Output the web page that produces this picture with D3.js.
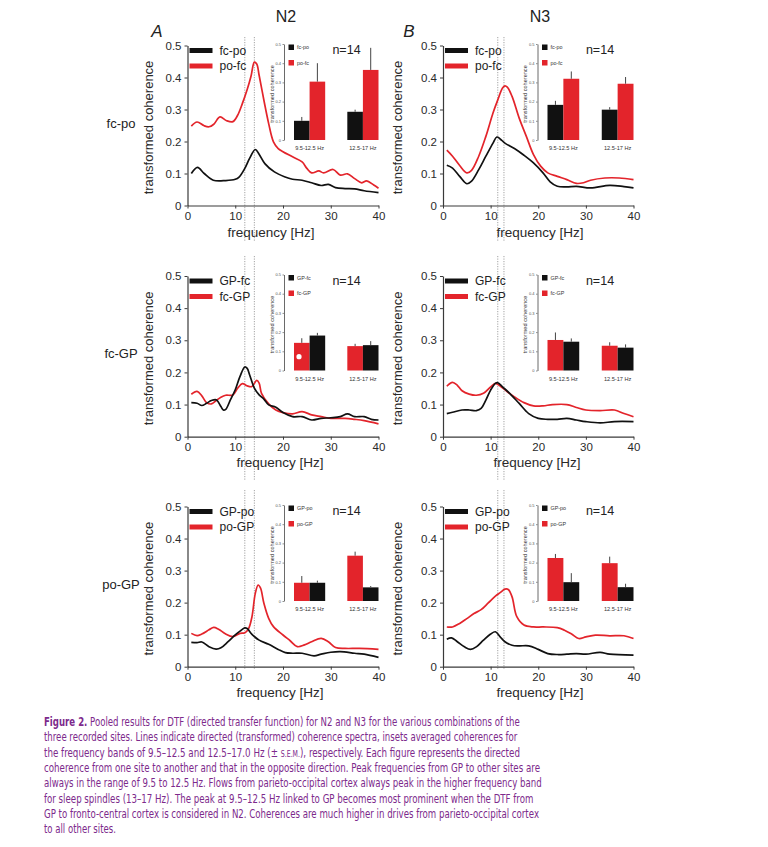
<!DOCTYPE html>
<html><head><meta charset="utf-8">
<script src="https://cdn.jsdelivr.net/npm/d3@7"></script>
<style>body{margin:0;background:#fff}</style>
</head><body><svg id="c" width="768" height="847" xmlns="http://www.w3.org/2000/svg"></svg>
<script>
// ---------- data ----------
const freqTicks = [0, 10, 20, 30, 40];
const cohTicks = [0, 0.1, 0.2, 0.3, 0.4, 0.5];
const bands = ["9.5-12.5 Hz", "12.5-17 Hz"];
const stageTitles = ["N2", "N3"];
const panelLetters = ["A", "B"];
const rowLabels = ["fc-po", "fc-GP", "po-GP"];
const markerFreqsN2 = [12, 14];
const markerFreqsN3 = [11.5, 12.8];

// row 1: fc-po / po-fc
const n2_fcpo = [[0.8,0.10],[2.1,0.119],[3.5,0.10],[5.4,0.079],[8,0.078],[10,0.082],[10.8,0.089],[12,0.116],[13,0.147],[14.2,0.175],[15,0.16],[16.2,0.131],[18.2,0.105],[20.3,0.09],[22,0.082],[24,0.079],[26,0.071],[28,0.0625],[29.5,0.066],[31,0.056],[33,0.053],[35,0.052],[37,0.046],[40,0.04]];
const n2_pofc = [[0.8,0.248],[2,0.261],[3.5,0.249],[4.5,0.246],[5.5,0.254],[6.8,0.277],[8.2,0.265],[9.5,0.262],[10.5,0.282],[11.5,0.319],[12.5,0.3625],[13.3,0.404],[14,0.448],[14.5,0.442],[15,0.407],[16,0.329],[17,0.256],[18,0.199],[19,0.178],[20,0.168],[22,0.152],[24,0.136],[25,0.116],[26,0.102],[27.5,0.108],[28.5,0.102],[30.5,0.1125],[32,0.095],[33.5,0.099],[35,0.084],[36.5,0.071],[37.5,0.077],[39,0.064],[40,0.054]];
const n3_fcpo = [[0.8,0.126],[2,0.117],[3.5,0.091],[5,0.068],[6,0.076],[7.5,0.112],[9,0.154],[10.5,0.195],[11.3,0.214],[12,0.208],[13,0.195],[15,0.178],[17,0.157],[19,0.133],[21,0.102],[22.5,0.074],[24,0.06],[26,0.058],[28,0.06],[31,0.055],[35,0.063],[38,0.059],[40,0.055]];
const n3_pofc = [[0.8,0.173],[2,0.154],[3.5,0.125],[5,0.102],[6,0.11],[7.5,0.154],[9,0.216],[10.5,0.289],[11.5,0.33],[12.5,0.367],[13,0.374],[13.5,0.37],[14.5,0.341],[16,0.273],[17.5,0.216],[19,0.159],[20.5,0.123],[22,0.102],[24,0.091],[26,0.081],[28,0.069],[29.5,0.071],[31,0.079],[34,0.086],[37,0.086],[40,0.081]];

// row 2: GP-fc / fc-GP
const n2_gpfc = [[0.8,0.106],[2,0.104],[3,0.097],[4,0.104],[5,0.1125],[6,0.115],[7,0.094],[7.5,0.083],[8,0.085],[9,0.115],[10,0.146],[11,0.1875],[12,0.217],[12.5,0.2125],[13,0.193],[14,0.151],[15,0.13],[16,0.117],[17,0.099],[18.5,0.092],[20,0.075],[22,0.0625],[24,0.0625],[26,0.052],[28,0.057],[30,0.059],[32,0.0625],[33.5,0.071],[35,0.0625],[37,0.0625],[38.5,0.054],[40,0.052]];
const n2_fcgp = [[0.8,0.132],[2,0.141],[3,0.127],[4,0.106],[5,0.102],[6,0.1125],[7,0.123],[8,0.129],[9.5,0.13],[10.5,0.151],[11.5,0.165],[12.5,0.158],[13.5,0.156],[14.5,0.175],[15,0.167],[15.5,0.135],[17,0.102],[18.5,0.083],[20,0.075],[22,0.071],[24,0.078],[26,0.068],[28,0.0625],[30,0.057],[33,0.057],[35,0.054],[37,0.05],[40,0.04]];
const n3_gpfc = [[0.8,0.072],[2,0.076],[4,0.083],[5.5,0.083],[7,0.081],[8,0.088],[9,0.114],[10,0.145],[11,0.166],[11.5,0.168],[12.5,0.155],[14,0.135],[16,0.1035],[18,0.072],[20,0.057],[22,0.054],[24,0.054],[26,0.057],[28,0.052],[30,0.047],[33,0.043],[36,0.047],[40,0.047]];
const n3_fcgp = [[0.8,0.157],[2,0.169],[3,0.16],[4,0.143],[5.5,0.1325],[7,0.129],[8.5,0.135],[10,0.155],[11,0.166],[12,0.158],[13.5,0.14],[15,0.124],[17,0.106],[19,0.096],[21,0.096],[23,0.1],[26,0.1],[28,0.091],[30,0.083],[33,0.081],[36,0.083],[38,0.072],[40,0.062]];

// row 3: GP-po / po-GP
const n2_gppo = [[0.8,0.076],[2,0.075],[3,0.077],[4.5,0.0625],[6,0.055],[7,0.059],[8.5,0.078],[10,0.099],[11,0.111],[12,0.121],[12.5,0.119],[13.5,0.101],[15,0.083],[17,0.07],[19,0.054],[20.5,0.044],[22,0.042],[24,0.042],[26.5,0.034],[28,0.039],[30,0.045],[32,0.047],[35,0.042],[37,0.039],[40,0.029]];
const n2_pogp = [[0.8,0.104],[2,0.097],[3,0.102],[4.5,0.115],[5.5,0.123],[6.5,0.117],[8,0.102],[9.5,0.094],[11,0.104],[12,0.106],[12.8,0.119],[13.5,0.156],[14.2,0.229],[14.8,0.255],[15.3,0.245],[16,0.198],[17,0.151],[18,0.125],[20,0.099],[21.5,0.081],[23,0.0625],[24.5,0.068],[26,0.078],[28,0.0885],[29.5,0.078],[31,0.06],[33,0.057],[36,0.057],[40,0.054]];
const n3_gppo = [[0.8,0.086],[1.8,0.09],[3,0.078],[4.5,0.062],[5.8,0.054],[7,0.062],[8.5,0.083],[10,0.102],[11,0.109],[12,0.093],[13,0.078],[14.5,0.067],[16,0.065],[18,0.065],[20,0.054],[22,0.041],[24,0.038],[26,0.039],[28,0.041],[30,0.039],[33,0.045],[35,0.039],[40,0.036]];
const n3_pogp = [[0.8,0.124],[2,0.124],[3.5,0.135],[5,0.15],[6.5,0.166],[8,0.178],[9.5,0.199],[11,0.22],[12,0.231],[13,0.242],[13.7,0.241],[14.5,0.218],[15.5,0.156],[17,0.13],[19,0.124],[21,0.124],[24,0.122],[25.5,0.114],[27,0.102],[28.5,0.088],[30,0.093],[32,0.0985],[35,0.0965],[38,0.0965],[40,0.088]];

// inset bars: band means and S.E.M.
const n2_fcpo_mean = [0.10, 0.147],  n2_fcpo_sem = [0.02, 0.011];
const n2_pofc_mean = [0.304, 0.365], n2_pofc_sem = [0.096, 0.115];
const n3_fcpo_mean = [0.183, 0.158], n3_fcpo_sem = [0.021, 0.013];
const n3_pofc_mean = [0.319, 0.293], n3_pofc_sem = [0.038, 0.035];
const n2_gpfc_mean = [0.182, 0.132], n2_gpfc_sem = [0.014, 0.021];
const n2_fcgp_mean = [0.144, 0.127], n2_fcgp_sem = [0.024, 0.012];
const n3_gpfc_mean = [0.15, 0.119],  n3_gpfc_sem = [0.017, 0.017];
const n3_fcgp_mean = [0.159, 0.129], n3_fcgp_sem = [0.039, 0.018];
const n2_gppo_mean = [0.095, 0.071], n2_gppo_sem = [0.011, 0.007];
const n2_pogp_mean = [0.095, 0.236], n2_pogp_sem = [0.035, 0.021];
const n3_gppo_mean = [0.098, 0.072], n3_gppo_sem = [0.047, 0.018];
const n3_pogp_mean = [0.224, 0.197], n3_pogp_sem = [0.021, 0.034];

const captionLines = [
  ["Figure 2.", " Pooled results for DTF (directed transfer function) for N2 and N3 for the various combinations of the"],
  ["", "three recorded sites. Lines indicate directed (transformed) coherence spectra, insets averaged coherences for"],
  ["", "the frequency bands of 9.5–12.5 and 12.5–17.0 Hz (± ", "S.E.M.", "), respectively. Each figure represents the directed"],
  ["", "coherence from one site to another and that in the opposite direction. Peak frequencies from GP to other sites are"],
  ["", "always in the range of 9.5 to 12.5 Hz. Flows from parieto-occipital cortex always peak in the higher frequency band"],
  ["", "for sleep spindles (13–17 Hz). The peak at 9.5–12.5 Hz linked to GP becomes most prominent when the DTF from"],
  ["", "GP to fronto-central cortex is considered in N2. Coherences are much higher in drives from parieto-occipital cortex"],
  ["", "to all other sites."]
];
const captionWidths = [476, 474, 476, 496, 498, 490, 495, 72];

// ---------- layout ----------
const RED = "#e3242b", BLACK = "#111111", AXIS = "#3a3a3a", PURPLE = "#7d2a8c";
const FONT = "'Liberation Sans', Arial, Helvetica, sans-serif";
const svg = d3.select("#c");
svg.append("rect").attr("width", 768).attr("height", 847).attr("fill", "#fff");

const cols = [
  { x0: 187.5, x1: 378.5, ax: 284, markers: markerFreqsN2, titleX: 286, letterX: 157, ylabX: 153, xlabX: [271, 280, 280] },
  { x0: 443, x1: 633.5, ax: 537.5, markers: markerFreqsN3, titleX: 540, letterX: 409, ylabX: 402, xlabX: [540, 537, 540] }
];
const rows = [
  { top: 45.5, bot: 205.5, lt: 37, lb: 242, xl: 237 },
  { top: 276, bot: 436.7, lt: 256, lb: 480, xl: 467 },
  { top: 506.5, bot: 666.7, lt: 490, lb: 670, xl: 697 }
];

const panels = [
  { c: 0, r: 0, black: ["fc-po", n2_fcpo, n2_fcpo_mean, n2_fcpo_sem], red: ["po-fc", n2_pofc, n2_pofc_mean, n2_pofc_sem], redFirst: false },
  { c: 1, r: 0, black: ["fc-po", n3_fcpo, n3_fcpo_mean, n3_fcpo_sem], red: ["po-fc", n3_pofc, n3_pofc_mean, n3_pofc_sem], redFirst: false },
  { c: 0, r: 1, black: ["GP-fc", n2_gpfc, n2_gpfc_mean, n2_gpfc_sem], red: ["fc-GP", n2_fcgp, n2_fcgp_mean, n2_fcgp_sem], redFirst: true, dot: true },
  { c: 1, r: 1, black: ["GP-fc", n3_gpfc, n3_gpfc_mean, n3_gpfc_sem], red: ["fc-GP", n3_fcgp, n3_fcgp_mean, n3_fcgp_sem], redFirst: true },
  { c: 0, r: 2, black: ["GP-po", n2_gppo, n2_gppo_mean, n2_gppo_sem], red: ["po-GP", n2_pogp, n2_pogp_mean, n2_pogp_sem], redFirst: true },
  { c: 1, r: 2, black: ["GP-po", n3_gppo, n3_gppo_mean, n3_gppo_sem], red: ["po-GP", n3_pogp, n3_pogp_mean, n3_pogp_sem], redFirst: true }
];

// titles
cols.forEach((c, i) => {
  svg.append("text").attr("x", c.titleX).attr("y", 22).attr("text-anchor", "middle")
    .attr("font-family", FONT).attr("font-size", 16).attr("fill", "#222").text(stageTitles[i]);
  svg.append("text").attr("x", c.letterX).attr("y", 37).attr("text-anchor", "middle")
    .attr("font-family", FONT).attr("font-size", 17).attr("font-style", "italic").attr("fill", "#222").text(panelLetters[i]);
});
rows.forEach((r, i) => {
  svg.append("text").attr("x", 121).attr("y", (r.top + r.bot) / 2 + 2).attr("text-anchor", "middle")
    .attr("font-family", FONT).attr("font-size", 13).attr("fill", "#222").text(rowLabels[i]);
});

panels.forEach(p => {
  const c = cols[p.c], r = rows[p.r];
  const g = svg.append("g");
  const x = d3.scaleLinear().domain([0, 40]).range([c.x0, c.x1]);
  const y = d3.scaleLinear().domain([0, 0.5]).range([r.bot, r.top]);

  // dotted markers
  c.markers.forEach(f => {
    g.append("line").attr("x1", x(f)).attr("x2", x(f)).attr("y1", r.lt).attr("y2", r.lb)
      .attr("stroke", "#8a8a8a").attr("stroke-width", 0.8).attr("stroke-dasharray", "1.2,1.3");
  });

  // axes
  const ya = g.append("g").attr("transform", `translate(${c.x0},0)`)
    .call(d3.axisLeft(y).tickValues(cohTicks).tickFormat(d => d === 0 ? "0" : d3.format(".1f")(d)).tickSize(3).tickSizeOuter(0).tickPadding(3));
  const xa = g.append("g").attr("transform", `translate(0,${r.bot})`)
    .call(d3.axisBottom(x).tickValues(freqTicks).tickSize(3).tickSizeOuter(0).tickPadding(3));
  [ya, xa].forEach(a => {
    a.select(".domain").attr("stroke", AXIS).attr("stroke-width", 1.2);
    a.selectAll(".tick line").attr("stroke", AXIS);
    a.selectAll("text").attr("font-family", FONT).attr("font-size", 11.5).attr("fill", "#2a2a2a");
  });

  // axis titles
  g.append("text").attr("transform", `translate(${c.ylabX},${(r.top + r.bot) / 2 + 2}) rotate(-90)`)
    .attr("text-anchor", "middle").attr("font-family", FONT).attr("font-size", 13).attr("fill", "#2a2a2a").text("transformed coherence");
  g.append("text").attr("x", c.xlabX[p.r]).attr("y", r.xl).attr("text-anchor", "middle")
    .attr("font-family", FONT).attr("font-size", 13.5).attr("fill", "#2a2a2a").text("frequency [Hz]");

  // curves
  const line = d3.line().x(d => x(d[0])).y(d => y(d[1])).curve(d3.curveCatmullRom.alpha(0.5));
  [[p.red, RED], [p.black, BLACK]].forEach(([s, col]) => {
    g.append("path").datum(s[1]).attr("d", line).attr("fill", "none").attr("stroke", col).attr("stroke-width", 1.7);
  });

  // legend
  [[p.black, BLACK], [p.red, RED]].forEach(([s, col], i) => {
    const ly = r.top + 5 + i * 15.5;
    g.append("line").attr("x1", c.x0 + 2).attr("x2", c.x0 + 25).attr("y1", ly).attr("y2", ly)
      .attr("stroke", col).attr("stroke-width", 5);
    g.append("text").attr("x", c.x0 + 32).attr("y", ly + 4).attr("font-family", FONT).attr("font-size", 12)
      .attr("fill", "#222").text(s[0]);
  });

  // inset
  const iTop = r.top - 1.5, iBot = iTop + 96;
  const iy = d3.scaleLinear().domain([0, 0.5]).range([iBot, iTop]);
  const bx = d3.scaleBand().domain(bands).range([c.ax + 10, c.x1]).paddingInner(22 / 53).paddingOuter(0);
  const series = p.redFirst ? [[p.red, RED], [p.black, BLACK]] : [[p.black, BLACK], [p.red, RED]];
  const sx = d3.scaleBand().domain([0, 1]).range([0, bx.bandwidth()]);
  const ia = g.append("g").attr("transform", `translate(${c.ax},0)`)
    .call(d3.axisLeft(iy).tickValues(cohTicks).tickFormat(d => d === 0 ? "0" : d3.format(".1f")(d)).tickSize(1.5).tickSizeOuter(0).tickPadding(1.5));
  ia.select(".domain").attr("stroke", "#444").attr("stroke-width", 0.8);
  ia.selectAll(".tick line").attr("stroke", "#444").attr("stroke-width", 0.6);
  ia.selectAll("text").attr("font-family", FONT).attr("font-size", 4).attr("fill", "#555");
  g.append("text").attr("transform", `translate(${c.ax - 10.5},${iTop + 50}) rotate(-90)`)
    .attr("text-anchor", "middle").attr("font-family", FONT).attr("font-size", 5.6).attr("fill", "#333").text("transformed coherence");

  series.forEach(([s, col], si) => {
    bands.forEach((b, bi) => {
      const bx0 = bx(b) + sx(si), bw = sx.bandwidth();
      g.append("rect").attr("x", bx0).attr("width", bw).attr("y", iy(s[2][bi])).attr("height", iBot - iy(s[2][bi]))
        .attr("fill", col);
      g.append("line").attr("x1", bx0 + bw / 2).attr("x2", bx0 + bw / 2)
        .attr("y1", iy(s[2][bi])).attr("y2", iy(s[2][bi] + s[3][bi]))
        .attr("stroke", "#444").attr("stroke-width", 1);
    });
  });
  if (p.dot) {
    const s = p.red;
    g.append("circle").attr("cx", bx(bands[0]) + 5).attr("cy", iy(s[2][0] / 2)).attr("r", 2.6).attr("fill", "#fff");
  }
  bands.forEach(b => {
    g.append("text").attr("x", bx(b) + bx.bandwidth() / 2).attr("y", iBot + 10).attr("text-anchor", "middle")
      .attr("font-family", FONT).attr("font-size", 5.6).attr("fill", "#333").text(b);
  });
  // inset legend
  [[p.black, BLACK], [p.red, RED]].forEach(([s, col], i) => {
    const sy = iTop + 0.5 + i * 15.5;
    g.append("rect").attr("x", c.ax + 4.5).attr("y", sy).attr("width", 5.5).attr("height", 5.5).attr("fill", col);
    g.append("text").attr("x", c.ax + 13).attr("y", sy + 4.8).attr("font-family", FONT).attr("font-size", 5.4)
      .attr("fill", "#333").text(s[0]);
  });
  g.append("text").attr("x", c.ax + 62.5).attr("y", r.top + 8.5).attr("text-anchor", "middle")
    .attr("font-family", FONT).attr("font-size", 12.5).attr("fill", "#222").text("n=14");
});

// caption: each line drawn at natural width, then scaled horizontally to the measured width
const CFONT = "'Liberation Sans Narrow', 'DejaVu Sans Condensed', 'Roboto Condensed', sans-serif";
captionLines.forEach((ln, i) => {
  const gL = svg.append("g");
  const t = gL.append("text").attr("x", 0).attr("y", 0)
    .attr("font-family", CFONT).attr("font-size", 12.6).attr("fill", PURPLE);
  if (ln[0]) t.append("tspan").attr("font-weight", "bold").text(ln[0]);
  t.append("tspan").text(ln[1]);
  if (ln.length > 2) {
    t.append("tspan").attr("font-size", 9).text(ln[2]);
    t.append("tspan").text(ln[3]);
  }
  const w = t.node().getComputedTextLength();
  const s = w > 0 ? captionWidths[i] / w : 1;
  gL.attr("transform", `translate(44,${726 + i * 15.35}) scale(${s},1)`);
});
</script>
</body></html>
